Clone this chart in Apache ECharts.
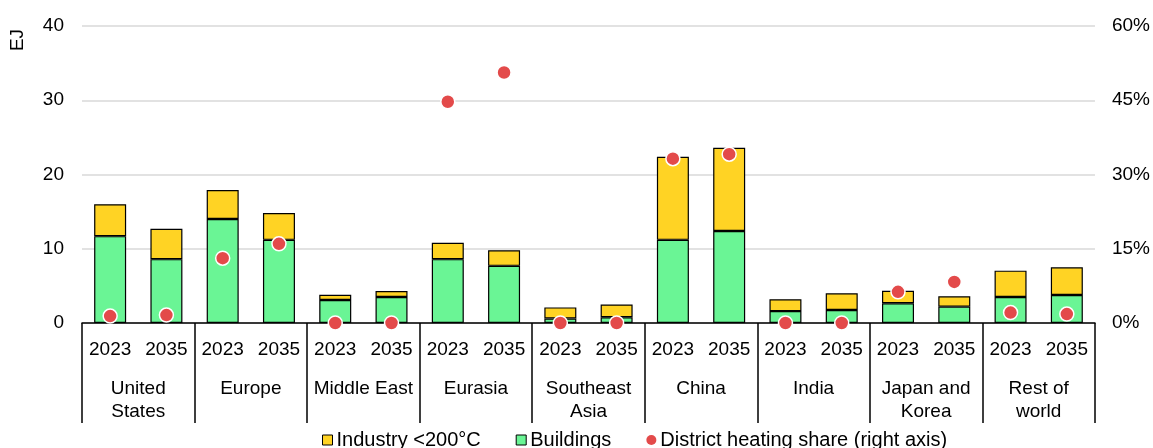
<!DOCTYPE html>
<html>
<head>
<meta charset="utf-8">
<script src="https://cdn.jsdelivr.net/npm/echarts@6/dist/echarts.min.js"></script>
<style>
  html, body { margin: 0; padding: 0; background: #fff; }
  #chart { width: 1153px; height: 448px; }
</style>
</head>
<body>
<div id="chart"></div>
<script>
// Regions and years shown on the two-level category axis
const regions = ['United\nStates', 'Europe', 'Middle East', 'Eurasia', 'Southeast\nAsia', 'China', 'India', 'Japan and\nKorea', 'Rest of\nworld'];
const years = ['2023', '2035'];

// Heat demand, EJ (one value per region-year, 2023 then 2035)
const buildings = [11.7, 8.6, 14.0, 11.2, 3.1, 3.5, 8.6, 7.7, 0.6, 0.77, 11.2, 12.4, 1.6, 1.75, 2.65, 2.2, 3.5, 3.77];
const industry  = [4.3, 4.1, 3.9, 3.6, 0.7, 0.8, 2.2, 2.1, 1.5, 1.73, 11.2, 11.2, 1.6, 2.25, 1.7, 1.4, 3.55, 3.73];

// District heating share of heat demand, %
const districtShare = [1.4, 1.6, 13.1, 16.0, 0, 0, 44.7, 50.6, 0, 0, 33.2, 34.1, 0, 0, 6.3, 8.3, 2.1, 1.8];

// Right-hand axis tick labels
const shareTicks = ['0%', '15%', '30%', '45%', '60%'];

const yearCategories = [];
regions.forEach(() => years.forEach(y => yearCategories.push(y)));

const font = 'Arial, "Liberation Sans", sans-serif';
const fs = 19;
const chart = echarts.init(document.getElementById('chart'));

chart.setOption({
  animation: false,
  textStyle: { fontFamily: font, color: '#000' },
  grid: { left: 82, right: 57, top: 26, bottom: 125 },
  legend: {
    top: 425,
    left: 317,
    itemGap: 35,
    itemWidth: 10,
    itemHeight: 10,
    textStyle: { fontSize: 20, color: '#000', fontFamily: font, padding: [0, 0, 0, -1] },
    data: [
      { name: 'Industry <200°C', icon: 'rect', itemStyle: { color: '#FFD324', borderColor: '#000', borderWidth: 1 } },
      { name: 'Buildings', icon: 'rect', itemStyle: { color: '#6AF595', borderColor: '#000', borderWidth: 1 } },
      { name: 'District heating share (right axis)', icon: 'circle', itemStyle: { color: '#E34A4A', borderWidth: 0 } }
    ]
  },
  graphic: [{
    type: 'text',
    x: 18, y: 40,
    rotation: Math.PI / 2,
    style: { text: 'EJ', fontSize: fs, fontFamily: font, fill: '#000', align: 'center', verticalAlign: 'middle' }
  }],
  xAxis: [
    {
      type: 'category',
      data: yearCategories,
      position: 'bottom',
      axisLine: { show: true, lineStyle: { color: '#000', width: 1.5 } },
      axisTick: { show: false },
      axisLabel: { fontSize: fs, color: '#000', margin: 17, interval: 0, fontFamily: font }
    },
    {
      type: 'category',
      data: regions,
      position: 'bottom',
      axisLine: { show: false },
      axisTick: { show: true, length: 100, interval: 0, lineStyle: { color: '#000', width: 1.5 } },
      axisLabel: { fontSize: fs, color: '#000', margin: 54, interval: 0, lineHeight: 23, fontFamily: font },
      splitLine: { show: false }
    }
  ],
  yAxis: [
    {
      type: 'value',
      min: 0, max: 40, interval: 10,
      axisLine: { show: false },
      axisTick: { show: false },
      axisLabel: { fontSize: fs, color: '#000', margin: 18, fontFamily: font },
      splitLine: { show: true, lineStyle: { color: '#D9D9D9', width: 1.5 } }
    },
    {
      type: 'value',
      min: 0, max: 60, interval: 15,
      axisLine: { show: false },
      axisTick: { show: false },
      axisLabel: {
        fontSize: fs, color: '#000', margin: 17, fontFamily: font,
        formatter: v => shareTicks[Math.round(v / 15)]
      },
      splitLine: { show: false }
    }
  ],
  series: [
    {
      name: 'Buildings',
      type: 'bar',
      stack: 'heat',
      barWidth: 32,
      data: buildings,
      itemStyle: { color: '#6AF595', borderColor: '#000', borderWidth: 1.2 }
    },
    {
      name: 'Industry <200°C',
      type: 'bar',
      stack: 'heat',
      barWidth: 32,
      data: industry,
      itemStyle: { color: '#FFD324', borderColor: '#000', borderWidth: 1.2 }
    },
    {
      name: 'District heating share (right axis)',
      type: 'scatter',
      yAxisIndex: 1,
      symbol: 'circle',
      symbolSize: 14,
      data: districtShare,
      itemStyle: { color: '#E34A4A', borderColor: '#fff', borderWidth: 1.5, opacity: 1 },
      z: 5
    }
  ]
});
</script>
</body>
</html>
